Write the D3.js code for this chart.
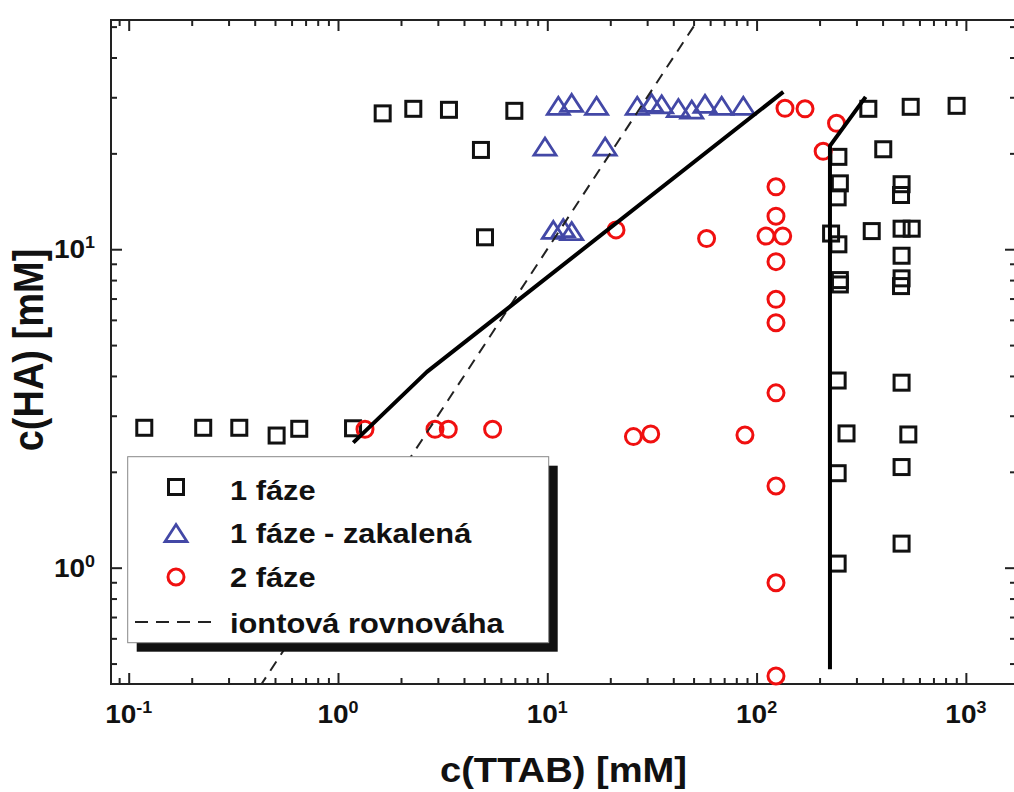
<!DOCTYPE html>
<html>
<head>
<meta charset="utf-8">
<script src="https://cdn.jsdelivr.net/npm/d3@7"></script>
<style>
  html, body { margin: 0; padding: 0; background: #fff; }
  svg { display: block; }
  text { font-family: "Liberation Sans", Arial, Helvetica, sans-serif; font-weight: bold; fill: #111; }
</style>
</head>
<body>
<svg id="chart" width="1014" height="792"></svg>
<script>
// Phase diagram TTAB / HA, both axes logarithmic, values in mM: [c(TTAB), c(HA)]

// single phase samples
const onePhase = [
  [0.1187, 2.75], [0.227, 2.75], [0.3376, 2.75], [0.509, 2.60], [0.653, 2.73], [1.18, 2.74],
  [1.635, 26.7], [2.29, 27.6], [3.39, 27.4], [6.96, 27.2], [4.82, 20.5], [5.04, 10.9],
  [342, 27.6], [545, 28.0], [903, 28.2], [403, 20.6],
  [246, 19.5], [250, 16.1], [244, 14.55], [493, 16.0], [490, 14.8],
  [227, 11.2], [246, 10.36], [355, 11.4], [493, 11.6], [551, 11.6], [493, 9.54],
  [250, 8.0], [250, 7.75], [493, 8.1], [490, 7.66],
  [244, 3.87], [493, 3.81], [269, 2.64], [531, 2.62],
  [244, 1.98], [493, 2.07], [493, 1.19], [244, 1.03]
];

// single phase, turbid
const onePhaseTurbid = [
  [11.29, 28.2], [13.08, 28.8], [17.2, 28.2], [26.9, 28.2], [31.5, 28.8], [35.2, 28.5],
  [42.3, 27.75], [49.0, 27.45], [56.7, 28.6], [68.1, 28.2], [86.4, 28.2],
  [9.75, 21.0], [18.9, 21.0],
  [10.69, 11.5], [11.92, 11.65], [13.08, 11.4]
];

// two phase samples
const twoPhase = [
  [136.7, 27.7], [170.4, 27.6], [241, 24.85], [208, 20.3],
  [123.8, 15.7], [123.8, 12.7], [110.9, 11.0], [133.3, 11.0], [57.7, 10.8], [21.3, 11.5],
  [123.8, 9.14], [123.8, 6.96], [123.8, 5.88], [123.8, 3.54],
  [1.346, 2.72], [2.907, 2.72], [3.365, 2.72], [5.48, 2.72],
  [25.8, 2.58], [31.2, 2.63], [88.0, 2.61],
  [123.8, 1.805], [123.8, 0.897], [123.8, 0.457]
];

// phase boundaries (solid)
const boundaryLow = [[1.183, 2.47], [2.66, 4.12], [134.2, 31.2]];
const boundaryHigh = [[224.2, 0.48], [224.2, 21.1], [332, 30.1]];

// ionic equilibrium c(HA) = c(TTAB) (dashed)
const ionicEquilibrium = [[0.3, 0.3], [60, 60]];

// ticks
const xMajorTicks = [0.1, 1, 10, 100, 1000];
const xTickExponents = ["-1", "0", "1", "2", "3"];
const xMinorTicks = [0.09, 0.2, 0.3, 0.4, 0.5, 0.6, 0.7, 0.8, 0.9,
  2, 3, 4, 5, 6, 7, 8, 9, 20, 30, 40, 50, 60, 70, 80, 90,
  200, 300, 400, 500, 600, 700, 800, 900];
const yMajorTicks = [1, 10];
const yTickExponents = ["0", "1"];
const yMinorTicks = [0.5, 0.6, 0.7, 0.8, 0.9, 2, 3, 4, 5, 6, 7, 8, 9, 20, 30, 40, 50];

const legendLabels = ["1 fáze", "1 fáze - zakalená", "2 fáze", "iontová rovnováha"];
const xTitle = "c(TTAB) [mM]";
const yTitle = "c(HA) [mM]";

// layout
const plot = { left: 111, right: 1016, top: 20, bottom: 684 };
const ink = "#111";
const blue = "#4348a6";
const red = "#f01010";

const x = d3.scaleLog().domain([0.0823, 1736]).range([plot.left, plot.right]);
const y = d3.scaleLog().domain([0.4313, 52.45]).range([plot.bottom, plot.top]);

const svg = d3.select("#chart");
svg.append("rect").attr("width", 1014).attr("height", 792).attr("fill", "#fff");

svg.append("defs").append("clipPath").attr("id", "plot-clip")
  .append("rect")
  .attr("x", plot.left).attr("y", plot.top)
  .attr("width", plot.right - plot.left).attr("height", plot.bottom - plot.top);

// inward ticks on all four sides
function tickRow(axisFn, scale, values, size, tx, ty) {
  svg.append("g")
    .attr("transform", `translate(${tx},${ty})`)
    .call(axisFn(scale).tickValues(values).tickSize(size).tickSizeOuter(0).tickFormat(""))
    .call(g => g.select(".domain").remove())
    .selectAll("line").attr("stroke", "#222").attr("stroke-width", 2);
}
tickRow(d3.axisBottom, x, xMajorTicks, -11, 0, plot.bottom);
tickRow(d3.axisBottom, x, xMinorTicks, -6, 0, plot.bottom);
tickRow(d3.axisTop, x, xMajorTicks, -11, 0, plot.top);
tickRow(d3.axisTop, x, xMinorTicks, -6, 0, plot.top);
tickRow(d3.axisLeft, y, yMajorTicks, -11, plot.left, 0);
tickRow(d3.axisLeft, y, yMinorTicks, -6, plot.left, 0);
tickRow(d3.axisRight, y, yMajorTicks, -11, plot.right, 0);
tickRow(d3.axisRight, y, yMinorTicks, -6, plot.right, 0);

svg.append("rect")
  .attr("x", plot.left).attr("y", plot.top)
  .attr("width", plot.right - plot.left).attr("height", plot.bottom - plot.top)
  .attr("fill", "none").attr("stroke", "#222").attr("stroke-width", 2);

// power-of-ten tick labels
function powerLabel(g, exp) {
  g.append("tspan").text("10");
  g.append("tspan").attr("font-size", 16).attr("dy", -10).text(exp);
}
xMajorTicks.forEach((v, i) => {
  svg.append("text")
    .attr("transform", `translate(${x(v)},723) scale(1.12,1)`)
    .attr("text-anchor", "middle").attr("font-size", 25)
    .call(powerLabel, xTickExponents[i]);
});
yMajorTicks.forEach((v, i) => {
  svg.append("text")
    .attr("transform", `translate(95,${y(v) + 9}) scale(1.12,1)`)
    .attr("text-anchor", "end").attr("font-size", 25)
    .call(powerLabel, yTickExponents[i]);
});

// axis titles
svg.append("text")
  .attr("transform", `translate(${(plot.left + plot.right) / 2},782) scale(1.09,1)`)
  .attr("text-anchor", "middle").attr("font-size", 35)
  .text(xTitle);
svg.append("text")
  .attr("transform", `translate(43,350) scale(1.1,1) rotate(-90)`)
  .attr("text-anchor", "middle").attr("font-size", 38)
  .text(yTitle);

// marker shapes
const SQ = 15;
const triPath = "M0,-8.5L11,8.5L-11,8.5Z";

const marks = svg.append("g");
marks.selectAll("rect.one").data(onePhase).join("rect")
  .attr("class", "one")
  .attr("x", d => x(d[0]) - SQ / 2).attr("y", d => y(d[1]) - SQ / 2)
  .attr("width", SQ).attr("height", SQ)
  .attr("fill", "none").attr("stroke", ink).attr("stroke-width", 3);

marks.selectAll("path.turbid").data(onePhaseTurbid).join("path")
  .attr("class", "turbid")
  .attr("d", triPath)
  .attr("transform", d => `translate(${x(d[0])},${y(d[1])})`)
  .attr("fill", "none").attr("stroke", blue).attr("stroke-width", 2.8)
  .attr("stroke-linejoin", "miter");

marks.selectAll("circle.two").data(twoPhase).join("circle")
  .attr("class", "two")
  .attr("cx", d => x(d[0])).attr("cy", d => y(d[1])).attr("r", 8)
  .attr("fill", "none").attr("stroke", red).attr("stroke-width", 3);

// lines
const line = d3.line().x(d => x(d[0])).y(d => y(d[1]));
const lines = svg.append("g").attr("clip-path", "url(#plot-clip)");
lines.append("path").datum(ionicEquilibrium)
  .attr("d", line).attr("fill", "none")
  .attr("stroke", "#222").attr("stroke-width", 2).attr("stroke-dasharray", "11,8");
[boundaryLow, boundaryHigh].forEach(seg => {
  lines.append("path").datum(seg)
    .attr("d", line).attr("fill", "none")
    .attr("stroke", "#000").attr("stroke-width", 4)
    .attr("stroke-linejoin", "round").attr("stroke-linecap", "butt");
});

// legend with drop shadow
const lg = svg.append("g");
const box = { x: 127.7, y: 456.7, w: 421, h: 186 };
lg.append("rect").attr("x", box.x + 9).attr("y", box.y + 9)
  .attr("width", box.w).attr("height", box.h).attr("fill", "#111");
lg.append("rect").attr("x", box.x).attr("y", box.y)
  .attr("width", box.w).attr("height", box.h)
  .attr("fill", "#fff").attr("stroke", "#888").attr("stroke-width", 1);

const symX = 176;
const rowY = [487, 533, 577, 622];
lg.append("rect").attr("x", symX - SQ / 2).attr("y", rowY[0] - SQ / 2)
  .attr("width", SQ).attr("height", SQ)
  .attr("fill", "none").attr("stroke", ink).attr("stroke-width", 3);
lg.append("path").attr("d", triPath).attr("transform", `translate(${symX},${rowY[1]})`)
  .attr("fill", "none").attr("stroke", blue).attr("stroke-width", 2.8);
lg.append("circle").attr("cx", symX).attr("cy", rowY[2]).attr("r", 8)
  .attr("fill", "none").attr("stroke", red).attr("stroke-width", 3);
lg.append("line").attr("x1", 135).attr("x2", 216).attr("y1", rowY[3]).attr("y2", rowY[3])
  .attr("stroke", "#222").attr("stroke-width", 2).attr("stroke-dasharray", "13,8");

const baselines = [499.5, 543, 587, 632.5];
legendLabels.forEach((t, i) => {
  lg.append("text")
    .attr("transform", `translate(230,${baselines[i]}) scale(1.1,1)`)
    .attr("font-size", 28)
    .text(t);
});
</script>
</body>
</html>
